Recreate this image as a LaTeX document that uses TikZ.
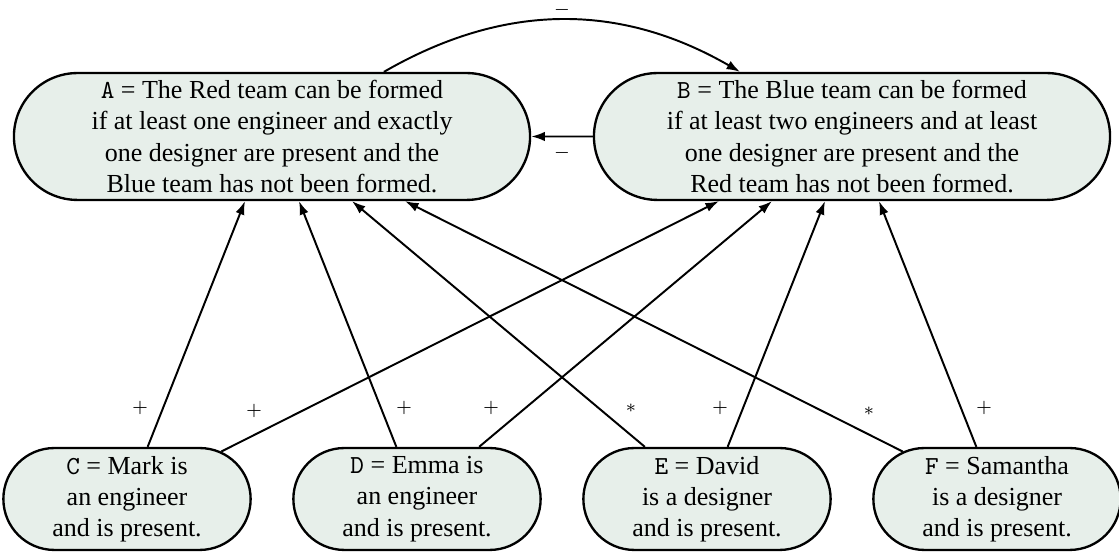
\documentclass[tikz,border=0pt]{standalone}
\usepackage{fontspec}
\setmainfont{Liberation Serif}
\usetikzlibrary{arrows.meta,shapes.misc,calc}
\definecolor{nodefill}{RGB}{231,239,234}
\begin{document}
\begin{tikzpicture}[x=0.3846pt,y=0.3846pt,
  prop/.style={draw, line width=0.9pt, fill=nodefill, rounded rectangle, align=center, inner sep=0pt},
  bigprop/.style={prop, minimum width=198.5pt, minimum height=48.8pt},
  smallprop/.style={prop, inner xsep=-1pt, minimum width=93.1pt, minimum height=39.2pt},
  conn/.style={-{Latex[length=5.2pt,width=3.6pt]}, line width=0.75pt},
  sign/.style={font=\scriptsize, inner sep=3.33pt}]
\useasboundingbox (0,0) rectangle (1119,554);

\node[bigprop] (A) at (272,417.5) {\texttt{A} = The Red team can be formed\\ if at least one engineer and exactly\\ one designer are present and the\\ Blue team has not been formed.};
\node[bigprop] (B) at (852,417.5) {\texttt{B} = The Blue team can be formed\\ if at least two engineers and at least\\ one designer are present and the\\ Red team has not been formed.};

\node[smallprop] (C) at (127,55) {\texttt{C} = Mark is\\ an engineer\\ and is present.};
\node[smallprop] (D) at (417,55) {\texttt{D} = Emma is\\ an engineer\\ and is present.};
\node[smallprop] (E) at (707,55) {\texttt{E} = David\\ is a designer\\ and is present.};
\node[smallprop] (F) at (997,55) {\texttt{F} = Samantha\\ is a designer\\ and is present.};

\coordinate (A1) at ($(A.south)+(-27,0)$);
\coordinate (A2) at ($(A.south)+(27,0)$);
\coordinate (A3) at ($(A.south)+(80,0)$);
\coordinate (A4) at ($(A.south)+(133,0)$);
\coordinate (B1) at ($(B.south)+(-133,0)$);
\coordinate (B2) at ($(B.south)+(-80,0)$);
\coordinate (B3) at ($(B.south)+(-27,0)$);
\coordinate (B4) at ($(B.south)+(27,0)$);

\draw[conn] (A) to[bend left=30] node[sign, above, inner sep=0.8pt] (mAB) {$-$} (B);
\draw[conn] (B) -- node[sign, below] (mBA) {$-$} (A);

\draw[conn] (C) -- (A1);
\draw[conn] (C) -- (B1);
\draw[conn] (D) -- (A2);
\draw[conn] (D) -- (B2);
\draw[conn] (E) -- (A3);
\draw[conn] (E) -- (B3);
\draw[conn] (F) -- (A4);
\draw[conn] (F) -- (B4);

\node[sign] (lCA) at (140,146) {$+$};
\node[sign] (lCB) at (254,143) {$+$};
\node[sign] (lDA) at (404,146) {$+$};
\node[sign] (lDB) at (491,146) {$+$};
\node[sign] (lEA) at (631,146) {$\ast$};
\node[sign] (lEB) at (720,146) {$+$};
\node[sign] (lFA) at (869,143) {$\ast$};
\node[sign] (lFB) at (984,146) {$+$};
\end{tikzpicture}
\end{document}
